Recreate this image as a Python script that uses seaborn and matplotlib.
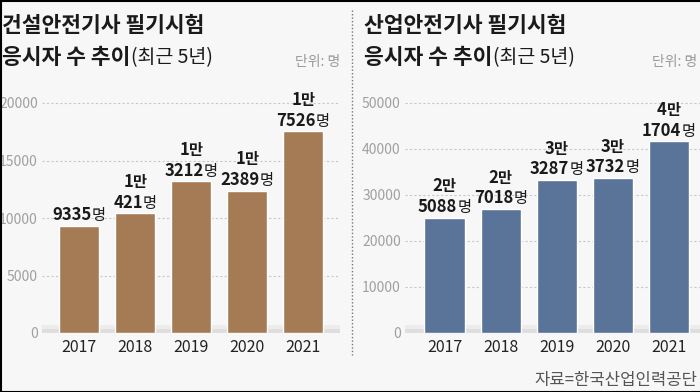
import matplotlib
matplotlib.use("Agg")
import matplotlib.pyplot as plt
import seaborn as sns
import pandas as pd
from matplotlib.offsetbox import TextArea, HPacker, VPacker, AnnotationBbox
from matplotlib.lines import Line2D

sns.set_style("white")
plt.rcParams['font.family'] = ['Noto Sans CJK KR', 'DejaVu Sans']

years = ["2017", "2018", "2019", "2020", "2021"]
construction = [9335, 10421, 13212, 12389, 17526]
industrial = [25088, 27018, 33287, 33732, 41704]
left_ticks = [0, 5000, 10000, 15000, 20000]
right_ticks = [0, 10000, 20000, 30000, 40000, 50000]
left_title1 = "건설안전기사 필기시험"
right_title1 = "산업안전기사 필기시험"
title2 = "응시자 수 추이"
title2b = "(최근 5년)"
unit = "단위: 명"
source = "자료=한국산업인력공단"

BG = "#f7f7f7"
W, H = 700, 392
fig = plt.figure(figsize=(W / 100, H / 100), dpi=100, facecolor=BG)

def px_axes(x0, x1, ytop, ybot):
    return fig.add_axes([x0 / W, 1 - ybot / H, (x1 - x0) / W, (ybot - ytop) / H])

def draw_panel(ax, values, ticks, color, top_tick, xl, xr):
    ax.set_facecolor(BG)
    df = pd.DataFrame({"year": years, "value": values})
    sns.barplot(data=df, x="year", y="value", color=color, saturation=1,
                width=0.714, ax=ax, zorder=3)
    ax.set_xlim(xl, xr)
    ax.set_ylim(0, top_tick * (333 - 90) / (333 - 103))
    ax.set_yticks(ticks)
    ax.set_yticklabels([str(t) for t in ticks])
    ax.tick_params(axis="y", length=0, pad=3, labelsize=10, labelcolor="#a0a0a0")
    ax.tick_params(axis="x", length=0, pad=4, labelsize=11.5, labelcolor="#222222")
    ax.set_xlabel("")
    ax.set_ylabel("")
    for s in ax.spines.values():
        s.set_visible(False)
    for t in ticks[1:]:
        ax.axhline(t, color="#c8c8c8", lw=0.8, ls=(0, (2, 2)), zorder=1)
    unit_per_px = top_tick / 230
    ax.axhspan(0, 8 * unit_per_px, color="#ececec", zorder=1, lw=0)
    ax.axhspan(0, 4 * unit_per_px, color="#dedede", zorder=1, lw=0)
    for i, v in enumerate(values):
        man, rest = divmod(v, 10000)
        num_style = dict(fontsize=12, fontweight="bold", color="#1a1a1a")
        suf_style = dict(fontsize=11, fontweight="medium", color="#1a1a1a")
        line2 = HPacker(children=[TextArea(str(rest if man else v), textprops=num_style),
                                  TextArea("명", textprops=suf_style)],
                        align="baseline", pad=0, sep=0)
        rows = []
        if man:
            line1 = HPacker(children=[TextArea(str(man), textprops=num_style),
                                      TextArea("만", textprops=dict(fontsize=11, fontweight="bold", color="#1a1a1a"))],
                            align="baseline", pad=0, sep=0)
            rows.append(line1)
        rows.append(line2)
        box = VPacker(children=rows, align="center", pad=0, sep=2)
        ab = AnnotationBbox(box, (i, v), xybox=(0, 1), boxcoords="offset points",
                            box_alignment=(0.5, 0), frameon=False, zorder=5,
                            annotation_clip=False)
        ax.add_artist(ab)

axL = px_axes(42, 340, 90, 333)
draw_panel(axL, construction, left_ticks, "#a57b55", 20000, -0.661, 4.66)
axR = px_axes(405, 700, 90, 333)
draw_panel(axR, industrial, right_ticks, "#5a7398", 50000, -0.705, 4.56)

def title(x, t1):
    fig.text(x / W, 1 - 25 / H, t1, fontsize=15.5, fontweight="bold", color="#1a1a1a",
             va="center", ha="left")
    t = fig.text(x / W, 1 - 58 / H, title2, fontsize=15.5, fontweight="bold",
                 color="#1a1a1a", va="center", ha="left")
    fig.canvas.draw()
    bb = t.get_window_extent()
    fig.text(bb.x1 / W + 1 / W, 1 - 58 / H, title2b, fontsize=14, fontweight="normal",
             color="#1a1a1a", va="center", ha="left")

title(2, left_title1)
title(364, right_title1)
fig.text(340 / W, 1 - 62 / H, unit, fontsize=10, color="#9a9a9a", ha="right", va="center")
fig.text(697 / W, 1 - 62 / H, unit, fontsize=10, color="#9a9a9a", ha="right", va="center")
fig.text(697 / W, 1 - 381 / H, source, fontsize=12, color="#555555", ha="right", va="center")

fig.add_artist(Line2D([352 / W, 352 / W], [1 - 10 / H, 1 - 355 / H], color="#777777",
                      lw=1, ls=(0, (1, 1.5))))
fig.add_artist(Line2D([0, 1], [1 - 0.5 / H, 1 - 0.5 / H], color="black", lw=1.5))
fig.add_artist(Line2D([0.5 / W, 0.5 / W], [0, 1], color="black", lw=1.5))
fig.add_artist(Line2D([0, 1], [0.5 / H, 0.5 / H], color="black", lw=1.5))

fig.savefig("out.png", dpi=100, facecolor=BG)
